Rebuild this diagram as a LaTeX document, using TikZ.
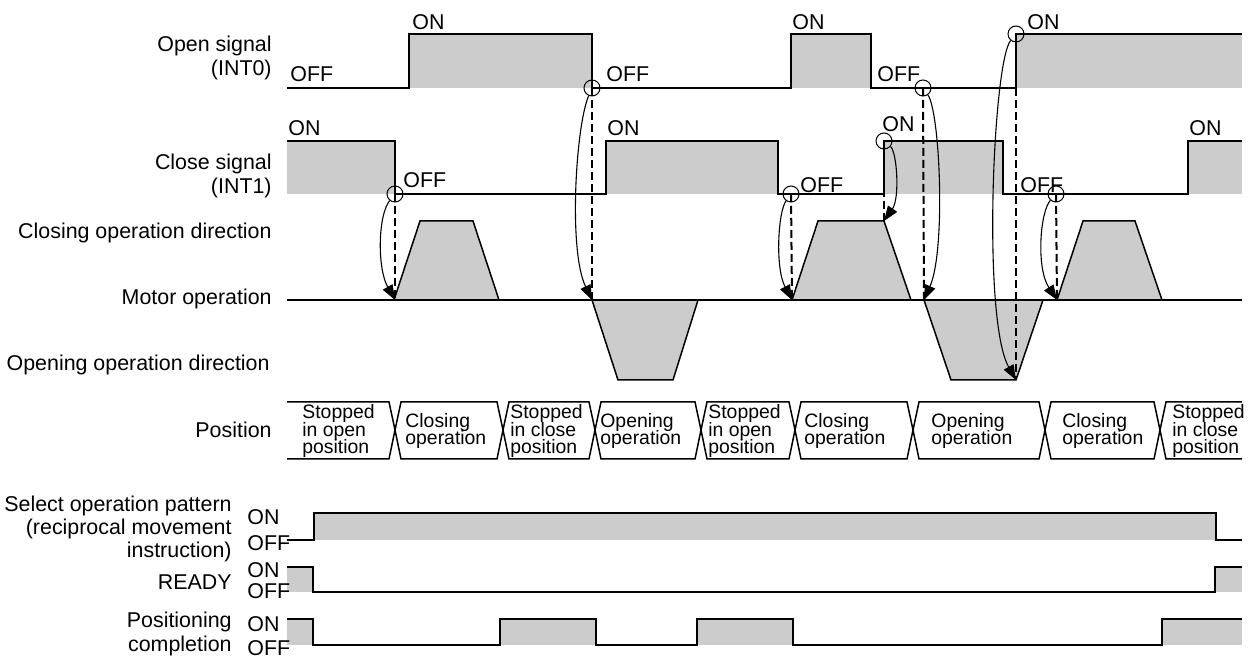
\documentclass[tikz,border=0pt]{standalone}
\usepackage{fontspec}
\setmainfont{Liberation Sans}
\usetikzlibrary{arrows.meta}
\definecolor{fillgray}{RGB}{204,204,204}
\newcommand\mytightlines{\lineskiplimit=-100pt\relax\lineskip=0pt\relax}
\begin{document}
\begin{tikzpicture}[x=0.5pt,y=-0.5pt,
  sig/.style={line width=0.75pt,line join=miter},
  trap/.style={fill=fillgray,draw=black,line width=0.75pt,line join=miter},
  lbl/.style={font=\fontsize{10.7}{11.6}\selectfont,inner sep=0pt,align=right,anchor=east},
  st/.style={font=\fontsize{10.7}{11.6}\selectfont,inner sep=0pt,anchor=west},
  postext/.style={font=\fontsize{9.7}{8.75}\selectfont\mytightlines,inner sep=0pt,align=left,anchor=west},
  ring/.style={circle,draw,line width=0.5pt,minimum size=8pt,inner sep=0pt},
  dl/.style={line width=1pt,dash pattern=on 4pt off 2pt},
  arr/.style={line width=0.55pt,-{Triangle[length=7.5pt,width=5.5pt]}},
]
\useasboundingbox (0,0) rectangle (1254,657);

% ---------- left labels ----------
\node[lbl] (lopen) at (272,58) {Open signal\\(INT0)};
\node[lbl] (lclose) at (272,176) {Close signal\\(INT1)};
\node[lbl] (lcdir) at (272,233) {Closing operation direction};
\node[lbl] (lmotor) at (272,299) {Motor operation};
\node[lbl] (lodir) at (270,365) {Opening operation direction};
\node[lbl] (lpos) at (272,430) {Position};
\node[lbl] (lsel) at (232,529) {Select operation pattern\\(reciprocal movement\\instruction)};
\node[lbl] (lready) at (232,582) {READY};
\node[lbl] (lpc) at (232,634) {Positioning\\completion};

% ---------- open signal ----------
\fill[fillgray] (409,34) rectangle (592,88);
\fill[fillgray] (791,34) rectangle (871,88);
\fill[fillgray] (1016,34) rectangle (1242,88);
\draw[sig] (287,88) -- (409,88) -- (409,34) -- (592,34) -- (592,88) -- (791,88) -- (791,34) -- (871,34) -- (871,88) -- (1016,88) -- (1016,34) -- (1242,34);
\node[st] (o1) at (290,74) {OFF};
\node[st] (o2) at (412,22) {ON};
\node[st] (o3) at (606,74) {OFF};
\node[st] (o4) at (792,22) {ON};
\node[st] (o5) at (877,74) {OFF};
\node[st] (o6) at (1027,22) {ON};

% ---------- close signal ----------
\fill[fillgray] (287,141) rectangle (395,194);
\fill[fillgray] (606,141) rectangle (778,194);
\fill[fillgray] (884,141) rectangle (1003,194);
\fill[fillgray] (1188,141) rectangle (1242,194);
\draw[sig] (287,141) -- (395,141) -- (395,194) -- (606,194) -- (606,141) -- (778,141) -- (778,194) -- (884,194) -- (884,141) -- (1003,141) -- (1003,194) -- (1188,194) -- (1188,141) -- (1242,141);
\node[st] (k1) at (288,128) {ON};
\node[st] (k2) at (403,180) {OFF};
\node[st] (k3) at (607,128) {ON};
\node[st] (k4) at (800,185) {OFF};
\node[st] (k5) at (882,124) {ON};
\node[st] (k6) at (1020,185) {OFF};
\node[st] (k7) at (1189,128) {ON};

% ---------- motor operation ----------
\draw[trap] (394,300) -- (420,221) -- (473,221) -- (499,300) -- cycle;
\draw[trap] (792,300) -- (818,221) -- (884,221) -- (911,300) -- cycle;
\draw[trap] (1057,300) -- (1083,221) -- (1135,221) -- (1162,300) -- cycle;
\draw[trap] (592,300) -- (618,380) -- (673,380) -- (698,300) -- cycle;
\draw[trap] (924,300) -- (951,380) -- (1016,380) -- (1043,300) -- cycle;
\draw[sig] (287,300) -- (1242,300);

% ---------- circles, dashed guides, arrows ----------
\node[ring] (c1) at (395,194) {};
\node[ring] (c2) at (592,88) {};
\node[ring] (c3) at (791,194) {};
\node[ring] (c4) at (884,141) {};
\node[ring] (c5) at (923,88) {};
\node[ring] (c6) at (1016,34) {};
\node[ring] (c7) at (1056,194) {};
\coordinate (m1) at (395,300);
\coordinate (m2) at (592,300);
\coordinate (m3) at (792,300);
\coordinate (m4) at (884,221);
\coordinate (m5) at (924,300);
\coordinate (m6) at (1016,380);
\coordinate (m7) at (1057,300);
\coordinate (d6) at (1016,88);

\draw[dl] (c1.center) -- (m1);
\draw[dl] (c2.center) -- (m2);
\draw[dl] (c3.center) -- (m3);
\draw[dl] (c4.center) -- (m4);
\draw[dl] (c5.center) -- (m5);
\draw[dl] (d6) -- (m6);
\draw[dl] (c7.center) -- (m7);

\draw[arr] (c1) .. controls (378,215) and (377,268) .. (m1);
\draw[arr] (c2) .. controls (576,125) and (568,250) .. (m2);
\draw[arr] (c3) .. controls (778,212) and (775,268) .. (m3);
\draw[arr] (c4) .. controls (897,152) and (900,198) .. (m4);
\draw[arr] (c5) .. controls (940,112) and (946,250) .. (m5);
\draw[arr] (c6) .. controls (993,62) and (982,320) .. (m6);
\draw[arr] (c7) .. controls (1040,212) and (1036,268) .. (m7);

% ---------- position ----------
\draw[sig] (287,402) -- (389,402) -- (395,430) -- (389,459) -- (287,459);
\foreach \a/\b in {395/503,503/595,595/701,701/795,795/913,913/1045,1045/1160}{
  \draw[sig] (\a+6,402) -- (\b-6,402) -- (\b,430) -- (\b-6,459) -- (\a+6,459) -- (\a,430) -- cycle;
}
\draw[sig] (1242,402) -- (1166,402) -- (1160,430) -- (1166,459) -- (1242,459);
\node[postext] (p1) at (302,431) {Stopped\\in open\\position};
\node[postext] (p2) at (405,431) {Closing\\operation};
\node[postext] (p3) at (510,431) {Stopped\\in close\\position};
\node[postext] (p4) at (600,431) {Opening\\operation};
\node[postext] (p5) at (708,431) {Stopped\\in open\\position};
\node[postext] (p6) at (804,431) {Closing\\operation};
\node[postext] (p7) at (931,431) {Opening\\operation};
\node[postext] (p8) at (1062,431) {Closing\\operation};
\node[postext] (p9) at (1172,431) {Stopped\\in close\\position};

% ---------- bottom signals ----------
\fill[fillgray] (314,513) rectangle (1216,540);
\draw[sig] (287,540) -- (314,540) -- (314,513) -- (1216,513) -- (1216,540) -- (1242,540);
\fill[fillgray] (287,567) rectangle (313,592);
\fill[fillgray] (1215,567) rectangle (1242,592);
\draw[sig] (287,567) -- (313,567) -- (313,592) -- (1215,592) -- (1215,567) -- (1242,567);
\fill[fillgray] (287,619) rectangle (313,645);
\fill[fillgray] (500,619) rectangle (596,645);
\fill[fillgray] (697,619) rectangle (793,645);
\fill[fillgray] (1162,619) rectangle (1242,645);
\draw[sig] (287,619) -- (313,619) -- (313,645) -- (500,645) -- (500,619) -- (596,619) -- (596,645) -- (697,645) -- (697,619) -- (793,619) -- (793,645) -- (1162,645) -- (1162,619) -- (1242,619);

\node[st] (s1) at (247,517) {ON};
\node[st] (s2) at (247,543) {OFF};
\node[st] (r1) at (247,570) {ON};
\node[st] (r2) at (247,591) {OFF};
\node[st] (q1) at (247,624) {ON};
\node[st] (q2) at (247,648) {OFF};
\end{tikzpicture}
\end{document}
